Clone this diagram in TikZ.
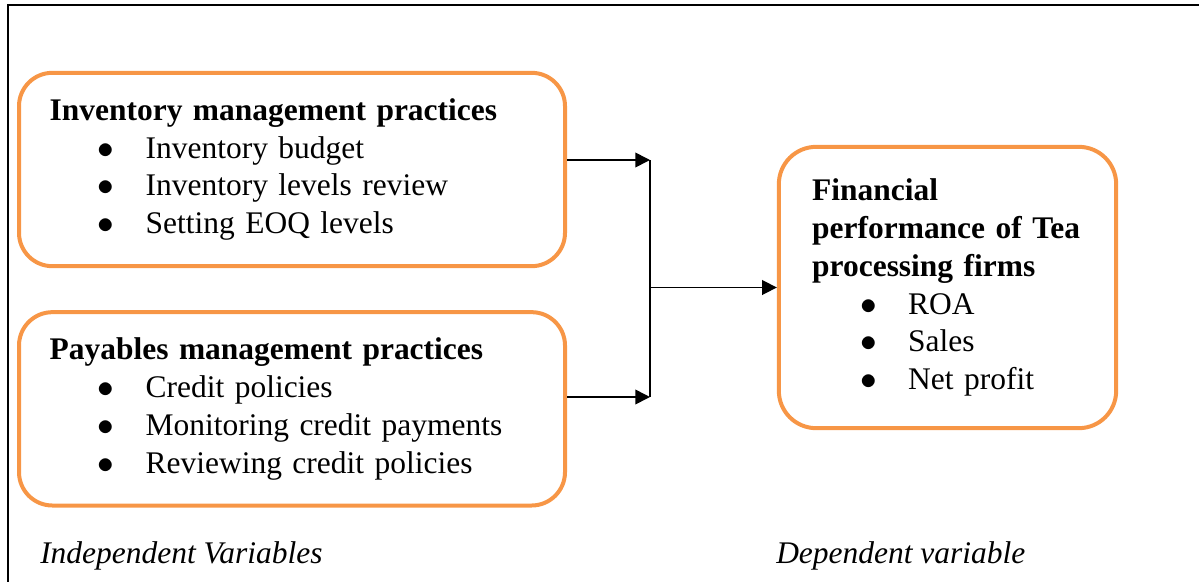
\documentclass[tikz,border=0pt]{standalone}
\usepackage{fontspec}
\setmainfont{Liberation Serif}
\usetikzlibrary{positioning,arrows.meta}
\definecolor{boxorange}{HTML}{F79646}
\newcommand{\bitem}[1]{\\\hspace*{36pt}\makebox[36pt][l]{$\bullet$}#1}

\begin{document}
\begin{tikzpicture}[x=0.75pt,y=-0.75pt,
  varbox/.style={draw=boxorange,line width=3pt,rounded corners=25pt,align=left,
    inner xsep=23pt,inner ysep=0pt,minimum width=409.5pt,minimum height=145pt,
    text width=363.5pt,font=\fontsize{23.6}{28.4}\selectfont},
  perfbox/.style={varbox,rounded corners=28pt,inner xsep=25pt,
    minimum width=253pt,minimum height=211pt,text width=203pt},
  conn/.style={-{Triangle[length=11pt,width=11pt]},line width=1.2pt},
  caption/.style={anchor=base west,inner sep=0pt,font=\fontsize{23.6}{28.4}\selectfont\itshape}]
  \useasboundingbox (0,0) rectangle (1199,582);
  \draw[line width=2pt] (1199,5) -- (8,5) -- (8,582);

  \node[varbox] (inv) at (292,169.5) {\textbf{Inventory management practices}
    \bitem{Inventory budget}\bitem{Inventory levels review}\bitem{Setting EOQ levels}};
  \node[varbox,below=31.5pt of inv] (pay) {\textbf{Payables management practices}
    \bitem{Credit policies}\bitem{Monitoring credit payments}\bitem{Reviewing credit policies}};
  \node[perfbox] (perf) at (947.5,287.5) {\textbf{Financial}\\\mbox{\textbf{performance of Tea}}\\\textbf{processing firms}
    \bitem{ROA}\bitem{Sales}\bitem{Net profit}};

  \coordinate (j1) at (650,160);
  \coordinate (j2) at (650,397);
  \coordinate (jm) at (650,287.5);
  \draw[conn] (j1 -| inv.east) -- (j1);
  \draw[conn] (j2 -| pay.east) -- (j2);
  \draw[line width=1.2pt] (j1) -- (j2);
  \draw[conn] (jm) -- (perf.west);

  \node[caption] (indep) at (40,563) {Independent Variables};
  \node[caption] (dep) at (776,563) {Dependent variable};
\end{tikzpicture}
\end{document}
